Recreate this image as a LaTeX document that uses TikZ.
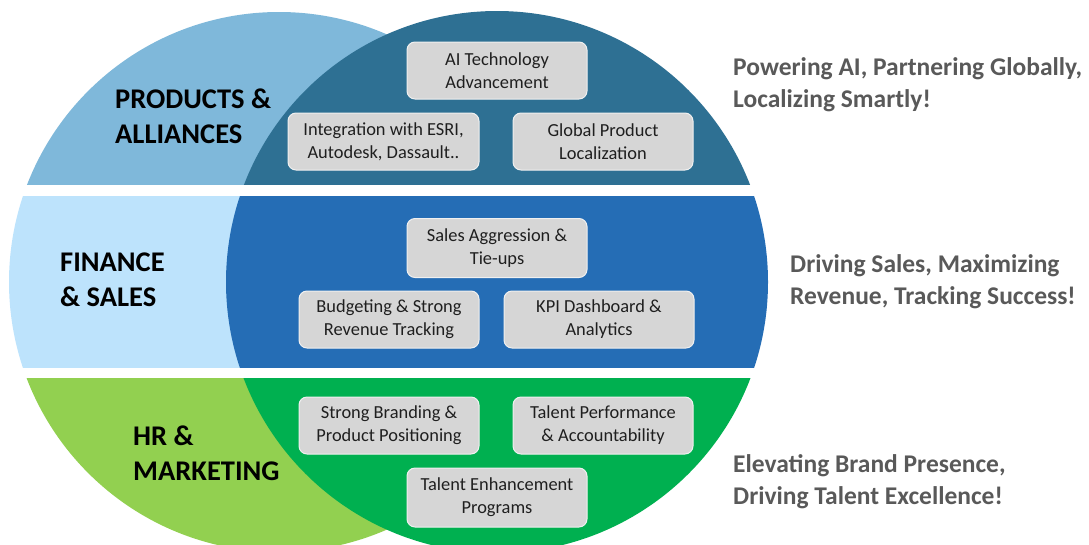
\documentclass[tikz,border=0pt]{standalone}
\usepackage{fontspec}
\setmainfont{Carlito}
\definecolor{paL}{RGB}{127,184,218}
\definecolor{paR}{RGB}{46,112,147}
\definecolor{fsL}{RGB}{189,227,252}
\definecolor{fsR}{RGB}{37,109,181}
\definecolor{hrL}{RGB}{146,208,80}
\definecolor{hrR}{RGB}{0,176,80}
\definecolor{boxfill}{RGB}{214,214,214}
\definecolor{boxline}{RGB}{240,240,240}
\definecolor{tagline}{RGB}{89,89,89}
\begin{document}
\begin{tikzpicture}[x=1pt,y=-1pt,
 item/.style={draw=boxline, line width=1pt, fill=boxfill, rounded corners=8pt,
   minimum height=57pt, align=center, font=\fontsize{18.4}{23}\selectfont,
   text=black!88, inner sep=2pt},
 head/.style={font=\fontsize{28.5}{35}\selectfont\bfseries, align=left, anchor=west, inner sep=0pt},
 tag/.style={font=\fontsize{25.5}{32}\selectfont\bfseries, text=tagline, align=left, anchor=west, inner sep=0pt}]
\useasboundingbox (0,0) rectangle (1089,544);
% band 1
\begin{scope}
\clip (0,0) rectangle (1089,184);
\fill[paL] (279,282) circle[radius=270];
\fill[paR] (497,282) circle[radius=271];
\end{scope}
% band 2
\begin{scope}
\clip (0,196) rectangle (1089,367);
\fill[fsL] (279,282) circle[radius=270];
\fill[fsR] (497,282) circle[radius=271];
\end{scope}
% band 3
\begin{scope}
\clip (0,378) rectangle (1089,544);
\fill[hrL] (279,282) circle[radius=270];
\fill[hrR] (497,282) circle[radius=271];
\end{scope}
% headings
\node[head] (hpa) at (115,116.5) {PRODUCTS \&\\ALLIANCES};
\node[head] (hfs) at (60,279.5) {FINANCE\\\& SALES};
\node[head] (hhr) at (133,453) {HR \&\\MARKETING};
% boxes band 1
\node[item, minimum width=180pt] (ai) at (497,70.5) {AI Technology\\Advancement};
\node[item, minimum width=191pt] (esri) at (383.5,141.5) {Integration with ESRI,\\Autodesk, Dassault..};
\node[item, minimum width=180pt] (glob) at (603,141.5) {Global Product\\Localization};
% boxes band 2
\node[item, minimum width=180pt, minimum height=59pt] (sales) at (497,248) {Sales Aggression \&\\Tie-ups};
\node[item, minimum width=180pt] (budg) at (389,319.5) {Budgeting \& Strong\\Revenue Tracking};
\node[item, minimum width=190pt] (kpi) at (599,319.5) {KPI Dashboard \&\\Analytics};
% boxes band 3
\node[item, minimum width=180pt] (brand) at (389,425.5) {Strong Branding \&\\Product Positioning};
\node[item, minimum width=180pt] (perf) at (603,425.5) {Talent Performance\\\& Accountability};
\node[item, minimum width=180pt, minimum height=59pt] (enh) at (497,497.5) {Talent Enhancement\\Programs};
% taglines
\node[tag] (tpa) at (733,85) {Powering AI, Partnering Globally,\\Localizing Smartly!};
\node[tag] (tfs) at (790,282) {Driving Sales, Maximizing\\Revenue, Tracking Success!};
\node[tag] (thr) at (733,482) {Elevating Brand Presence,\\Driving Talent Excellence!};
\end{tikzpicture}
\end{document}
